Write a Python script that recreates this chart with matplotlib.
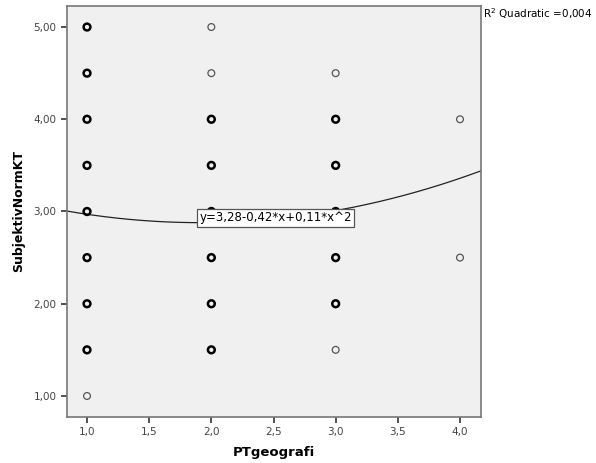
import numpy as np
import matplotlib
matplotlib.use("Agg")
import matplotlib.pyplot as plt
from matplotlib.ticker import FuncFormatter

# observed points (x, y) and how heavily they overplot (1 = single, 2 = many)
pt_x = [1, 1, 1, 1, 1, 1, 1, 1, 1,
        2, 2, 2, 2, 2, 2, 2, 2,
        3, 3, 3, 3, 3, 3, 3,
        4, 4]
pt_y = [5.0, 4.5, 4.0, 3.5, 3.0, 2.5, 2.0, 1.5, 1.0,
        5.0, 4.5, 4.0, 3.5, 3.0, 2.5, 2.0, 1.5,
        4.5, 4.0, 3.5, 3.0, 2.5, 2.0, 1.5,
        4.0, 2.5]
pt_weight = [2, 2, 2, 2, 2, 2, 2, 2, 1,
             1, 1, 2, 2, 2, 2, 2, 2,
             1, 2, 2, 2, 2, 2, 1,
             1, 1]

coef = [3.28, -0.42, 0.11]  # quadratic fit
r2_text = "R$^2$ Quadratic =0,004"
fit_label = "y=3,28-0,42*x+0,11*x^2"

plt.rcParams["font.family"] = ["DejaVu Sans"]
fig = plt.figure(figsize=(5.96, 4.63), dpi=100)
ax = fig.add_axes([67 / 596, 46 / 463, 414 / 596, 411 / 463])
ax.set_facecolor("#f0f0f0")

xlim = (0.839, 4.169)
ax.set_xlim(*xlim)
ax.set_ylim(0.772, 5.228)

xs = np.array(pt_x, dtype=float)
ys = np.array(pt_y, dtype=float)
w = np.array(pt_weight)
for wt, lw, col in [(1, 0.9, "#555555"), (2, 1.8, "#000000")]:
    m = w == wt
    ax.scatter(xs[m], ys[m], s=24, facecolors="none", edgecolors=col,
               linewidths=lw, zorder=3)

xx = np.linspace(xlim[0], xlim[1], 200)
yy = coef[0] + coef[1] * xx + coef[2] * xx ** 2
ax.plot(xx, yy, color="#222222", lw=0.9, zorder=2)

ax.text(1.905, 2.93, fit_label, fontsize=8.5, va="center", ha="left", zorder=4,
        bbox=dict(boxstyle="square,pad=0.2", fc="white", ec="#555555", lw=0.9))

fig.text(483 / 596, 1 - 14 / 463, r2_text, fontsize=7.5, va="center", ha="left")

ax.set_xticks([1.0, 1.5, 2.0, 2.5, 3.0, 3.5, 4.0])
ax.set_yticks([1.0, 2.0, 3.0, 4.0, 5.0])
ax.xaxis.set_major_formatter(FuncFormatter(lambda v, p: f"{v:.1f}".replace(".", ",")))
ax.yaxis.set_major_formatter(FuncFormatter(lambda v, p: f"{v:.2f}".replace(".", ",")))
ax.tick_params(labelsize=7.5, labelcolor="#444444", length=4, width=1.2, color="#333333")

for s in ax.spines.values():
    s.set_color("#777777")
    s.set_linewidth(1.2)

ax.set_xlabel("PTgeografi", fontsize=9.5, fontweight="bold", labelpad=6)
ax.set_ylabel("SubjektivNormKT", fontsize=9, fontweight="bold", labelpad=6)

fig.savefig("out.png", dpi=100)
